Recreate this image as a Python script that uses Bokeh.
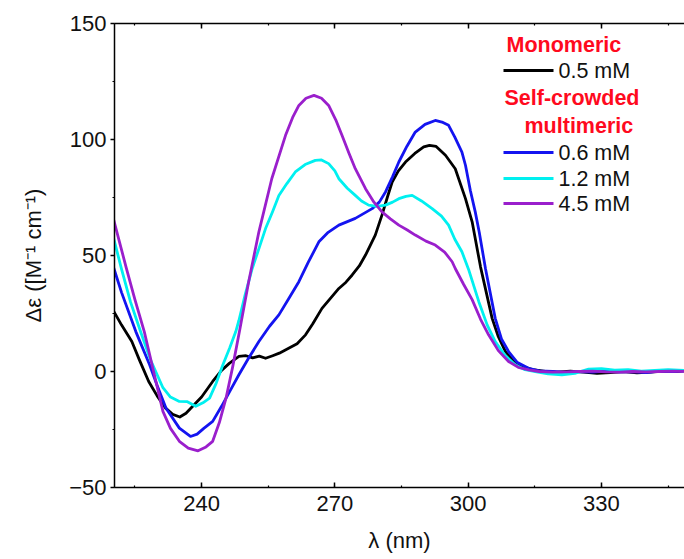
from bokeh.plotting import figure
from bokeh.models import LinearAxis, SingleIntervalTicker, Range1d, Label
from bokeh.embed import file_html
from bokeh.resources import INLINE

# CD spectra: wavelength (nm) and delta-epsilon (M^-1 cm^-1)
wl_05 = [220, 222, 224.3, 226, 228.1, 230, 231.9, 233.5, 235.1, 236.5, 238, 240, 242.5, 244.5,
         246.3, 248.4, 250, 251.5, 253, 254.4, 256, 257.5, 259.6, 261.5, 263.4, 265, 267.1, 269,
         270.9, 272.5, 273.9, 275.5, 276.9, 278, 279.1, 280.6, 281.8, 282.9, 284.3, 285.9, 288,
         290, 291.3, 292.8, 294.9, 297.1, 299.4, 300.9, 302.8, 305.4, 306.8, 308.4, 310, 312.1,
         314.5, 317.4, 320, 323, 326, 329, 332, 335, 338, 341, 344, 347, 349]
de_05 = [26.7, 20, 12.9, 5, -4.3, -10.5, -15.8, -18.5, -19.6, -18, -15, -11, -4.3, 0.5,
         3.6, 6.5, 6.8, 5.9, 6.6, 5.7, 6.8, 7.9, 10, 12, 15.8, 20.5, 27.2, 31.5,
         35.8, 38.5, 41.6, 45.5, 50.2, 54.5, 58.8, 67.4, 75, 81.7, 86.5, 90.3, 94,
         96.8, 97.5, 97, 93.2, 87.4, 74.5, 64.5, 45, 22.9, 15, 8.6, 5, 2.2,
         0.8, 0, -0.3, 0.2, -0.3, -0.8, -0.5, 0, -0.6, -0.3, 0.2, 0, 0.3]

wl_06 = [220, 222, 225.2, 228.3, 230, 232, 235, 237.5, 239, 240.5, 242.5, 244.5, 246.5, 248.4,
         250.5, 252.9, 255.3, 257.4, 259.5, 261.9, 264, 266.4, 268.5, 270.9, 274.6, 278.4, 280,
         281.4, 283, 284.4, 286.2, 288.1, 290.3, 292.6, 294.1, 295.6, 297, 298.6, 299.4, 300.5,
         301.6, 302.5, 303.9, 306.1, 307.5, 309.1, 311, 313.6, 316, 319, 322, 325, 328, 331,
         334, 337, 340, 343, 346, 349]
de_06 = [46, 34, 17.2, 2.9, -6, -15.8, -24.4, -28, -27, -24.5, -21.5, -15, -8, -1.4,
         5.5, 12.9, 19.5, 24.4, 31, 38.7, 47, 55.9, 60, 63.1, 66, 70.2, 73,
         77.4, 84, 90.3, 97, 103.2, 106.5, 108.2, 107.5, 106.1, 101, 94.6, 88.9, 78,
         68.8, 60, 44.4, 22.9, 14, 8.6, 4, 1.4, 0.3, 0, -0.4, 0, -0.3, 0.2,
         -0.2, 0, -0.5, 0.2, 0, 0.3]

wl_12 = [220, 222, 224, 226.3, 228.5, 231.3, 233, 235, 236.8, 238.7, 240.3, 241.8, 243.3, 244.8,
         246.3, 247.7, 248.4, 249.8, 251.4, 253, 254.4, 256, 257.4, 259.2, 261.1, 263.3, 265.6,
         267, 268.6, 270, 270.9, 272.8, 274.6, 276, 277.6, 279.5, 281.4, 283, 284.4, 286, 287.4,
         289.5, 291.9, 294, 295.6, 297, 298.6, 300.1, 302.4, 304.3, 306.1, 308.3, 310.6, 312.8,
         315.1, 318, 321.1, 324, 327.1, 330, 333, 336, 339, 342, 345, 349]
de_12 = [59, 44, 30, 17, 5, -7, -11, -12.9, -13, -15, -13.5, -11.5, -5, 2.9,
         10, 17.2, 22, 33, 44.4, 53.5, 61.6, 69, 75.9, 81, 86, 89.2, 91,
         91.2, 89.6, 86.5, 83.1, 79, 75.9, 73.5, 71.7, 71.2, 71.7, 73, 74.5, 75.5, 75.9,
         73.5, 70.2, 67, 63.1, 57, 51.6, 44, 30.1, 20, 12.9, 7, 2.9, 0.8,
         0, -1, -1.4, -0.8, 1.0, 1.2, 0.6, 0.8, 0.2, 0.5, 0.8, 0.4]

wl_45 = [220, 221.5, 223, 225, 227.1, 229.2, 231.3, 233, 235, 237, 239.2, 241, 242.5, 244,
         245.5, 247, 248.5, 250.6, 252.9, 255.8, 258.9, 260.5, 261.9, 263.5, 265.3, 267, 268.6,
         270.2, 271.6, 273.2, 274.6, 276.9, 278.8, 280.6, 282.5, 284.4, 286.3, 288.1, 290.5,
         292.6, 294.7, 296.4, 297.1, 299, 300.9, 302.8, 304.6, 306.8, 309.1, 311.3, 313.6, 316,
         319, 322, 325, 328, 331, 334, 337, 340, 343, 346, 349]
de_45 = [67, 56, 45, 31, 17.2, 0, -17.2, -24.5, -30.1, -33, -34.2, -32.5, -30.1, -22,
         -11.5, 2, 17, 38.7, 60.2, 83.1, 101.8, 109.5, 114.7, 117.8, 119, 117.8, 114.7,
         108.5, 101.8, 94, 87.4, 78.8, 73, 68.8, 65.8, 63.1, 61, 58.8, 56.2,
         54.5, 51.5, 47.3, 44.4, 37.5, 31, 22.5, 15.8, 9, 4.3, 1.8, 0.7, 0,
         -0.3, -0.2, 0, 0.2, -0.2, -0.3, 0, -0.2, 0, 0.2, 0]

series_labels = ["0.5 mM", "0.6 mM", "1.2 mM", "4.5 mM"]
series_colors = ["#000000", "#1414f0", "#00f0f0", "#9a1fcc"]
group_titles = ["Monomeric", "Self-crowded", "multimeric"]

FONT = "Liberation Sans"

X0, X1 = 220.4, 348.7
Y0, Y1 = -50, 150
LEFT, TOP, W, H = 114, 23, 684, 559
BOTTOM = 72
FW = W - LEFT
FH = H - TOP - BOTTOM

p = figure(width=W, height=H, output_backend="svg", toolbar_location=None,
           x_range=Range1d(X0, X1), y_range=Range1d(Y0, Y1),
           min_border_left=LEFT, min_border_right=0, min_border_top=TOP,
           min_border_bottom=BOTTOM, background_fill_color="white",
           border_fill_color="white", outline_line_color=None)
p.grid.visible = False

p.xaxis.ticker = SingleIntervalTicker(interval=30, num_minor_ticks=2)
p.yaxis.ticker = SingleIntervalTicker(interval=50, num_minor_ticks=2)

for ax in (p.xaxis[0], p.yaxis[0]):
    ax.axis_line_color = "black"
    ax.axis_line_width = 1.5
    ax.major_tick_line_width = 1.5
    ax.minor_tick_line_width = 1.2
    ax.major_label_text_font = FONT
    ax.major_label_text_font_size = "22px"
    ax.major_label_text_color = "#111111"
    ax.axis_label_text_font = FONT
    ax.axis_label_text_font_size = "22px"
    ax.axis_label_text_font_style = "normal"
    ax.axis_label_text_color = "#111111"

xa = p.xaxis[0]
xa.axis_label = "λ (nm)"
xa.major_tick_in, xa.major_tick_out = 5, 0
xa.minor_tick_in, xa.minor_tick_out = 2, 0
xa.major_label_standoff = 8
xa.axis_label_standoff = 14

ya = p.yaxis[0]
ya.axis_label = "Δε ([M⁻¹ cm⁻¹)"
ya.major_tick_in, ya.major_tick_out = 0, 4
ya.minor_tick_in, ya.minor_tick_out = 0, 2
ya.major_label_standoff = 4
ya.axis_label_standoff = 20

# top frame edge with inward ticks, no labels
top_ax = LinearAxis(ticker=SingleIntervalTicker(interval=30, num_minor_ticks=2),
                    major_label_text_color=None, axis_line_width=1.5,
                    major_tick_in=5, major_tick_out=0, minor_tick_in=2, minor_tick_out=0,
                    major_tick_line_width=1.5, minor_tick_line_width=1.2)
p.add_layout(top_ax, "above")

# spectra
for wl, de, col in zip([wl_05, wl_06, wl_12, wl_45], [de_05, de_06, de_12, de_45], series_colors):
    p.line(wl, de, line_color=col, line_width=2.8, line_join="round")


def to_data(px, py):
    """Convert canvas pixel position to data coordinates."""
    return X0 + (px - LEFT) / FW * (X1 - X0), Y1 - (py - TOP) / FH * (Y1 - Y0)


def heading(txt, px, py):
    x, y = to_data(px, py)
    p.add_layout(Label(x=x, y=y, text=txt, text_font=FONT, text_font_size="21.5px",
                       text_font_style="bold", text_color="#ff0a1e",
                       text_baseline="middle", text_align="left"))


def entry(txt, col, py):
    xa_, y = to_data(503, py)
    xb_, _ = to_data(553, py)
    xt_, _ = to_data(558, py)
    p.line([xa_, xb_], [y, y], line_color=col, line_width=2.8)
    p.add_layout(Label(x=xt_, y=y, text=txt, text_font=FONT, text_font_size="21.5px",
                       text_color="#111111", text_baseline="middle", text_align="left"))


heading(group_titles[0], 506, 44)
entry(series_labels[0], series_colors[0], 70)
heading(group_titles[1], 504, 97)
heading(group_titles[2], 524, 125)
entry(series_labels[1], series_colors[1], 152)
entry(series_labels[2], series_colors[2], 178)
entry(series_labels[3], series_colors[3], 203)

open("out.html", "w").write(file_html(p, INLINE))
